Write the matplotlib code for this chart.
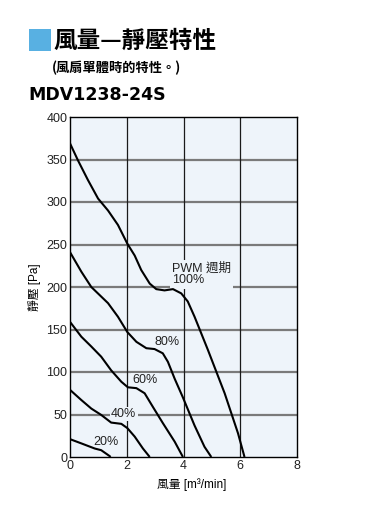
import matplotlib
matplotlib.use("Agg")
import matplotlib.pyplot as plt
from matplotlib.patches import Rectangle

plt.rcParams['font.family'] = ['Liberation Sans', 'Noto Sans CJK TC', 'DejaVu Sans']

# ---- data ----
x100 = [0, 0.28, 0.63, 0.99, 1.34, 1.69, 2.02, 2.28, 2.51, 2.81, 3.04, 3.33, 3.63, 3.92, 4.15, 4.39, 4.86, 5.45, 5.92, 6.15]
y100 = [369, 349, 326, 304, 290, 273, 251, 237, 220, 204, 197.5, 196, 197.5, 192.5, 183, 165, 126, 75, 28, 0]
x80 = [0, 0.40, 0.75, 1.34, 1.69, 2.02, 2.34, 2.69, 2.98, 3.27, 3.45, 3.69, 3.98, 4.39, 4.74, 4.98]
y80 = [241, 218, 200, 181, 165, 147, 135.5, 128, 127, 122, 112, 92, 70, 37, 12, 0]
x60 = [0, 0.40, 0.75, 1.10, 1.45, 1.81, 2.04, 2.34, 2.63, 2.92, 3.27, 3.69, 3.98]
y60 = [159, 141.5, 130, 118, 102, 88.5, 82, 81, 75, 59, 40, 18, 0]
x40 = [0, 0.40, 0.75, 1.10, 1.45, 1.81, 2.02, 2.28, 2.57, 2.81]
y40 = [79, 67, 57, 49.5, 40.5, 39, 34, 24, 10, 0]
x20 = [0, 0.40, 0.87, 1.10, 1.40, 1.43]
y20 = [21, 16, 10, 8, 1, 0]

xticks = [0, 2, 4, 6, 8]
yticks = [0, 50, 100, 150, 200, 250, 300, 350, 400]

labels = ["PWM 週期\n100%", "80%", "60%", "40%", "20%"]
label_pos = [(3.59, 215), (3.43, 135.5), (2.66, 90.5), (1.89, 50.5), (1.25, 18)]

bg = '#eef4fa'

fig = plt.figure(figsize=(3.8, 5.32), dpi=100)
ax = fig.add_axes([70/380, 1-457/532, 227/380, 340/532])
ax.set_facecolor(bg)
ax.set_xlim(0, 8)
ax.set_ylim(0, 400)
ax.set_xticks(xticks)
ax.set_yticks(yticks)
ax.tick_params(length=0, pad=2, labelsize=9, colors='#222222')
for s in ax.spines.values():
    s.set_color('black')
    s.set_linewidth(1.0)

for yv in yticks[1:-1]:
    ax.axhline(yv, color='#7a7a7a', lw=1.6, zorder=1)
for xv in xticks[1:-1]:
    ax.axvline(xv, color='#1a1a1a', lw=0.9, zorder=1)

for xs, ys in [(x100, y100), (x80, y80), (x60, y60), (x40, y40), (x20, y20)]:
    ax.plot(xs, ys, color='black', lw=1.5, zorder=4, solid_capstyle='butt',
            solid_joinstyle='round')

for i, (t, (px, py)) in enumerate(zip(labels, label_pos)):
    if i == 0:
        ax.text(px, py, t, ha='left', va='center', fontsize=9, linespacing=1.0,
                color='#222222', zorder=3,
                bbox=dict(facecolor=bg, edgecolor='none', pad=1.5))
    else:
        ax.text(px, py, t, ha='center', va='center', fontsize=9, color='#222222', zorder=3,
                bbox=dict(facecolor=bg, edgecolor='none', pad=1.0))

ax.set_ylabel('靜壓 [Pa]', fontsize=8.5, labelpad=4)
fig.text(192/380, 1-485/532, '風量 [m³/min]', ha='center', va='center', fontsize=8.5)

# header
fig.patches.append(Rectangle((29/380, 1-51/532), 22/380, 22/532, transform=fig.transFigure,
                             facecolor='#58b0e2', edgecolor='none'))
fig.text(53/380, 1-41/532, '風量—靜壓特性', ha='left', va='center', fontsize=17,
         fontweight='bold', family=['Noto Sans CJK TC'])
fig.text(52/380, 1-68/532, '(風扇單體時的特性。)', ha='left', va='center', fontsize=9.5,
         fontweight='bold', family=['Noto Sans CJK TC'])
fig.text(28/380, 1-95/532, 'MDV1238-24S', ha='left', va='center', fontsize=12.5,
         fontweight='bold', family=['DejaVu Sans'])

fig.savefig('out.png', dpi=100, facecolor='white')
